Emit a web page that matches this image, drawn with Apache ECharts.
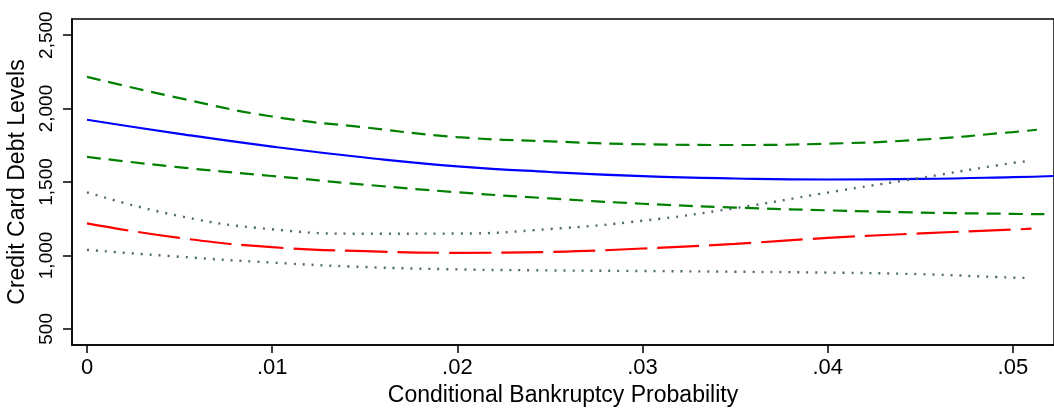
<!DOCTYPE html>
<html>
<head>
<meta charset="utf-8">
<script src="https://cdn.jsdelivr.net/npm/echarts@6/dist/echarts.min.js"></script>
<style>
  html, body { margin: 0; padding: 0; background: #fff; }
  #chart { width: 1054px; height: 409px; }
</style>
</head>
<body>
<div id="chart"></div>
<script>
// probability grid
const probs = [0, 0.005, 0.01, 0.015, 0.02, 0.025, 0.03, 0.035, 0.04, 0.045, 0.05];
const probsEndLong = 0.0517;
const probsEndShort = 0.051;

const estimate = [1924, 1828, 1741, 1667, 1607, 1568, 1540, 1524, 1517, 1521, 1533, 1541];
const ciUpper = [2216, 2071, 1946, 1872, 1806, 1777, 1757, 1752, 1761, 1788, 1840, 1856];
const ciLower = [1671, 1600, 1541, 1482, 1430, 1388, 1352, 1326, 1307, 1292, 1283, 1281];
const altUpper = [1430, 1268, 1178, 1148, 1149, 1180, 1236, 1322, 1428, 1528, 1630, 1644];
const altEstimate = [1218, 1119, 1056, 1029, 1018, 1024, 1047, 1079, 1119, 1150, 1176, 1182];
const altLower = [1038, 991, 951, 921, 905, 898, 894, 889, 883, 872, 849, 846];

const xTicks = [0, 0.01, 0.02, 0.03, 0.04, 0.05];
const yTicks = [500, 1000, 1500, 2000, 2500];

function pairs(vals, endX) {
    return vals.map((v, i) => [i < probs.length ? probs[i] : endX, v]);
}

function line(name, vals, endX, color, type, width) {
    return {
        name: name,
        type: 'line',
        data: pairs(vals, endX),
        smooth: true,
        showSymbol: false,
        lineStyle: { color: color, width: width || 2.2, type: type }
    };
}

const chart = echarts.init(document.getElementById('chart'));
chart.setOption({
    animation: false,
    textStyle: { fontFamily: 'Liberation Sans' },
    grid: {
        left: 72, top: 19, right: 0, bottom: 64,
        outerBoundsMode: 'none',
        containLabel: false,
        show: true, borderColor: '#000', borderWidth: 1.5
    },
    xAxis: {
        type: 'value',
        min: -0.00081,
        max: 0.05222,
        name: 'Conditional Bankruptcy Probability',
        nameLocation: 'middle',
        nameGap: 38,
        nameTextStyle: { fontSize: 23, color: '#000' },
        axisLine: { show: true, onZero: false, lineStyle: { color: '#000', width: 1.5 } },
        axisTick: { show: true, length: 8, customValues: xTicks, lineStyle: { color: '#000', width: 1.5 } },
        axisLabel: {
            customValues: xTicks,
            fontSize: 22, color: '#000', margin: 12,
            formatter: v => v === 0 ? '0' : v.toFixed(2).replace(/^0/, '')
        },
        splitLine: { show: false }
    },
    yAxis: {
        type: 'value',
        min: 390,
        max: 2610,
        name: 'Credit Card Debt Levels',
        nameLocation: 'middle',
        nameGap: 40,
        nameTextStyle: { fontSize: 23, color: '#000' },
        axisLine: { show: true, onZero: false, lineStyle: { color: '#000', width: 1.5 } },
        axisTick: { show: true, length: 9, customValues: yTicks, lineStyle: { color: '#000', width: 1.5 } },
        axisLabel: {
            customValues: yTicks,
            fontSize: 19, color: '#000', rotate: 90, margin: 16,
            formatter: v => v.toLocaleString('en-US')
        },
        splitLine: { show: false }
    },
    series: [
        line('upper', ciUpper, probsEndLong - 0.0004, '#008000', [14, 8]),
        line('estimate', estimate, 0.0522, '#0000ff', 'solid'),
        line('lower', ciLower, probsEndLong, '#008000', [14, 8]),
        line('alt upper', altUpper, probsEndShort, '#4d6b6b', [2, 7], 2.4),
        line('alt estimate', altEstimate, probsEndShort, '#ff0000', [42, 10]),
        line('alt lower', altLower, probsEndShort, '#4d6b6b', [2, 7], 2.4)
    ]
});
</script>
</body>
</html>
